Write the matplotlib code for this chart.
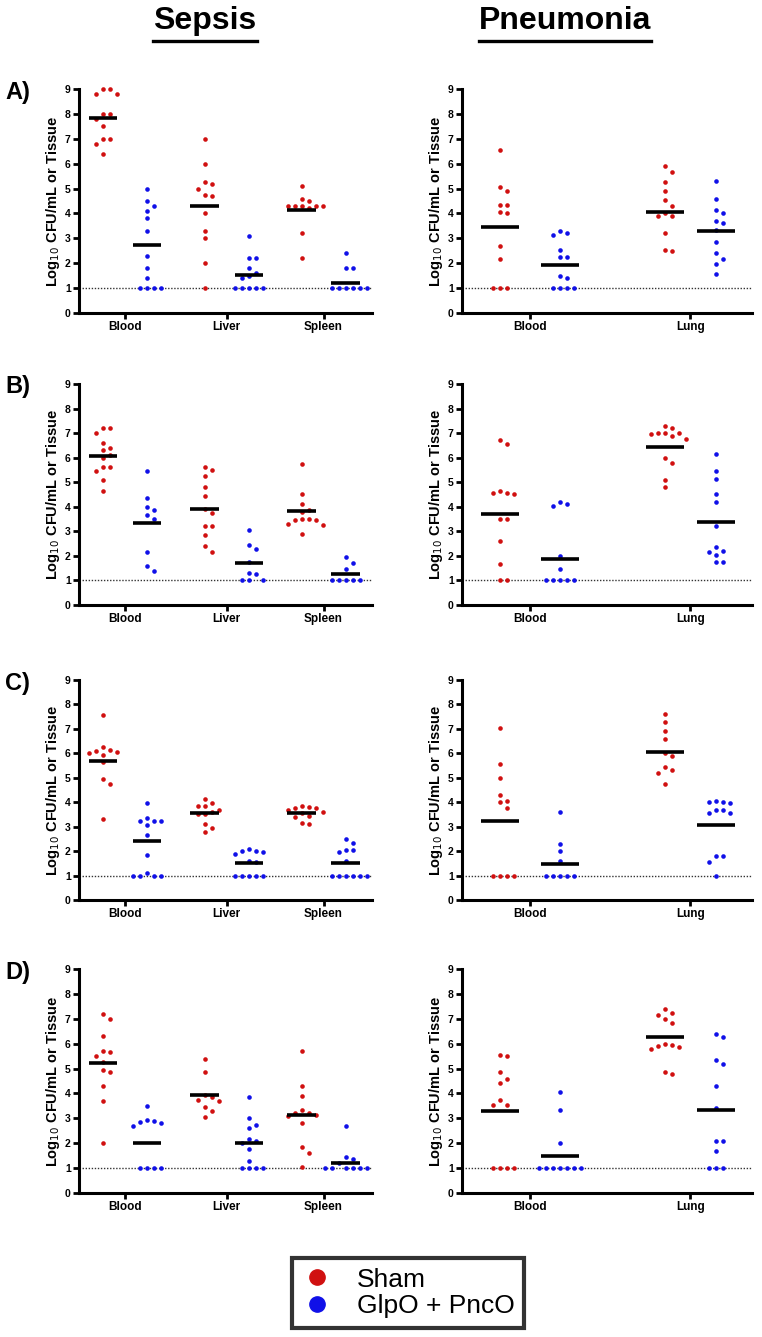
import matplotlib
matplotlib.use("Agg")
import matplotlib.pyplot as plt
from matplotlib.lines import Line2D
import numpy as np

plt.rcParams['font.family'] = ['Liberation Sans', 'DejaVu Sans']

RED = '#d01010'
BLUE = '#1010e8'

# ---- data: log10 CFU per group, listed (Sham, GlpO+PncO) per organ ----
sepsis_organs = ['Blood', 'Liver', 'Spleen']
pneumonia_organs = ['Blood', 'Lung']

sepsis_A = [
    [9.0, 9.0, 8.8, 8.8, 8.0, 8.0, 7.8, 7.5, 7.0, 7.0, 6.8, 6.4],
    [5.0, 4.5, 4.3, 4.1, 3.8, 3.3, 2.3, 1.8, 1.4, 1.0, 1.0, 1.0, 1.0],
    [7.0, 6.0, 5.25, 5.2, 5.0, 4.75, 4.7, 4.0, 3.3, 3.0, 2.0, 1.0],
    [3.1, 2.2, 2.2, 1.8, 1.6, 1.5, 1.4, 1.0, 1.0, 1.0, 1.0, 1.0],
    [5.1, 4.6, 4.5, 4.3, 4.3, 4.3, 4.3, 4.3, 4.2, 3.2, 2.2],
    [2.4, 1.8, 1.8, 1.0, 1.0, 1.0, 1.0, 1.0, 1.0],
]
sepsis_A_mean = [7.85, 2.75, 4.3, 1.52, 4.15, 1.2]

pneumonia_A = [
    [6.55, 5.05, 4.9, 4.35, 4.35, 4.05, 4.0, 2.7, 2.15, 1.0, 1.0, 1.0],
    [3.3, 3.2, 3.15, 2.55, 2.25, 2.25, 1.5, 1.4, 1.0, 1.0, 1.0, 1.0],
    [5.9, 5.65, 5.25, 4.9, 4.55, 4.3, 4.0, 3.9, 3.9, 3.2, 2.55, 2.5],
    [5.3, 4.6, 4.15, 4.0, 3.7, 3.6, 3.35, 2.85, 2.4, 2.15, 1.95, 1.55],
]
pneumonia_A_mean = [3.45, 1.92, 4.05, 3.3]

sepsis_B = [
    [7.2, 7.2, 7.0, 6.6, 6.4, 6.3, 6.1, 6.0, 5.6, 5.6, 5.45, 5.1, 4.65],
    [5.45, 4.35, 4.0, 3.85, 3.65, 3.5, 2.15, 1.6, 1.4],
    [5.6, 5.5, 5.25, 4.8, 4.45, 3.9, 3.75, 3.2, 3.2, 2.85, 2.4, 2.15],
    [3.05, 2.45, 2.3, 1.75, 1.3, 1.25, 1.0, 1.0, 1.0],
    [5.75, 4.5, 4.1, 3.85, 3.8, 3.5, 3.5, 3.45, 3.45, 3.3, 3.25, 2.9],
    [1.95, 1.7, 1.45, 1.0, 1.0, 1.0, 1.0, 1.0],
]
sepsis_B_mean = [6.08, 3.33, 3.9, 1.73, 3.82, 1.27]

pneumonia_B = [
    [6.7, 6.55, 4.65, 4.55, 4.55, 4.5, 3.5, 3.5, 2.6, 1.65, 1.0, 1.0],
    [4.2, 4.1, 4.05, 2.0, 1.45, 1.0, 1.0, 1.0, 1.0, 1.0],
    [7.3, 7.2, 7.0, 7.0, 7.0, 6.95, 6.9, 6.75, 6.0, 5.8, 5.1, 4.8],
    [6.15, 5.45, 5.15, 4.5, 4.2, 3.2, 2.35, 2.2, 2.15, 2.05, 1.75, 1.75],
]
pneumonia_B_mean = [3.72, 1.88, 6.45, 3.38]

sepsis_C = [
    [7.55, 6.25, 6.15, 6.1, 6.05, 6.0, 5.95, 5.65, 4.95, 4.75, 3.3],
    [3.95, 3.35, 3.25, 3.25, 3.25, 3.05, 2.65, 1.85, 1.1, 1.0, 1.0, 1.0, 1.0],
    [4.15, 3.95, 3.85, 3.85, 3.7, 3.6, 3.5, 3.5, 3.1, 2.95, 2.8],
    [2.1, 2.0, 2.0, 1.95, 1.9, 1.6, 1.55, 1.0, 1.0, 1.0, 1.0, 1.0],
    [3.85, 3.8, 3.75, 3.75, 3.7, 3.6, 3.55, 3.45, 3.4, 3.15, 3.1],
    [2.5, 2.35, 2.05, 2.05, 1.95, 1.6, 1.0, 1.0, 1.0, 1.0, 1.0, 1.0],
]
sepsis_C_mean = [5.7, 2.42, 3.56, 1.5, 3.56, 1.5]

pneumonia_C = [
    [7.05, 5.55, 5.0, 4.3, 4.05, 4.0, 3.75, 1.0, 1.0, 1.0, 1.0],
    [3.6, 2.3, 2.0, 1.6, 1.0, 1.0, 1.0, 1.0, 1.0],
    [7.6, 7.3, 6.9, 6.6, 6.0, 5.9, 5.45, 5.3, 5.2, 4.75],
    [4.05, 4.0, 4.0, 3.95, 3.7, 3.7, 3.55, 3.55, 1.8, 1.8, 1.55, 1.0],
]
pneumonia_C_mean = [3.22, 1.48, 6.07, 3.08]

sepsis_D = [
    [7.2, 7.0, 6.3, 5.7, 5.65, 5.5, 5.25, 4.95, 4.85, 4.3, 3.7, 2.0],
    [3.5, 2.95, 2.9, 2.85, 2.8, 2.7, 1.0, 1.0, 1.0, 1.0],
    [5.4, 4.85, 3.95, 3.85, 3.75, 3.7, 3.45, 3.3, 3.05],
    [3.85, 3.0, 2.75, 2.6, 2.15, 2.1, 2.0, 1.75, 1.3, 1.0, 1.0, 1.0, 1.0],
    [5.7, 4.3, 3.9, 3.35, 3.2, 3.2, 3.15, 3.1, 2.8, 1.85, 1.6, 1.05],
    [2.7, 1.45, 1.35, 1.2, 1.0, 1.0, 1.0, 1.0, 1.0, 1.0],
]
sepsis_D_mean = [5.23, 2.0, 3.93, 2.0, 3.13, 1.2]

pneumonia_D = [
    [5.55, 5.5, 4.85, 4.6, 4.4, 3.75, 3.55, 3.55, 1.0, 1.0, 1.0, 1.0],
    [4.05, 3.35, 2.0, 1.0, 1.0, 1.0, 1.0, 1.0, 1.0, 1.0],
    [7.4, 7.25, 7.15, 7.0, 6.85, 6.0, 5.95, 5.9, 5.85, 5.8, 4.85, 4.8],
    [6.4, 6.25, 5.35, 5.2, 4.3, 3.4, 2.1, 2.1, 1.7, 1.0, 1.0, 1.0],
]
pneumonia_D_mean = [3.3, 1.5, 6.25, 3.33]

row_labels = ['A)', 'B)', 'C)', 'D)']
sepsis_rows = [(sepsis_A, sepsis_A_mean), (sepsis_B, sepsis_B_mean),
               (sepsis_C, sepsis_C_mean), (sepsis_D, sepsis_D_mean)]
pneumonia_rows = [(pneumonia_A, pneumonia_A_mean), (pneumonia_B, pneumonia_B_mean),
                  (pneumonia_C, pneumonia_C_mean), (pneumonia_D, pneumonia_D_mean)]

# ---- layout (pixels) ----
W, H = 762, 1337
row_top = [89, 384, 680, 969]
row_bot = [313, 605, 900, 1193]
sepsis_x = (79, 372)
pneu_x = (462, 752)
sepsis_pos = [0, 1, 2.3, 3.3, 4.5, 5.5]
pneu_pos = [0, 1, 2.75, 3.6]


def swarm(ax, x0, ys, gap=7.0):
    """Beeswarm offsets (data units) so dots don't overlap, like Prism."""
    tr = ax.transData
    px_per_x = tr.transform((1, 0))[0] - tr.transform((0, 0))[0]
    placed = []
    xs = []
    for y in ys:
        py = tr.transform((x0, y))[1]
        k = 0
        while True:
            step = (k + 1) // 2 * (1 if k % 2 else -1)
            cx = step * gap
            if all((cx - a) ** 2 + (py - b) ** 2 >= gap ** 2 for a, b in placed):
                break
            k += 1
        placed.append((cx, py))
        xs.append(x0 + cx / px_per_x)
    return xs


def panel(ax, groups, means, pos, organs, xlim):
    ax.set_xlim(*xlim)
    ax.set_ylim(0, 9)
    ax.axhline(1, color='#333333', lw=1.0, ls=(0, (1, 1.2)), zorder=1)
    for i, (vals, m) in enumerate(zip(groups, means)):
        col = RED if i % 2 == 0 else BLUE
        xs = swarm(ax, pos[i], vals)
        ax.plot(xs, vals, 'o', ms=3.3, color=col, mec='none', zorder=3, clip_on=False)
        ax.hlines(m, pos[i] - 0.32, pos[i] + 0.32, color='black', lw=2.6, zorder=4)
    for s in ['top', 'right']:
        ax.spines[s].set_visible(False)
    for s in ['left', 'bottom']:
        ax.spines[s].set_linewidth(2.2)
    ax.set_yticks(range(10))
    ax.set_yticklabels([str(v) for v in range(10)], fontweight='bold', fontsize=7.5)
    centers = [(pos[2 * k] + pos[2 * k + 1]) / 2 for k in range(len(organs))]
    ax.set_xticks(centers)
    ax.set_xticklabels(organs, fontweight='bold', fontsize=8.5)
    ax.tick_params(axis='both', direction='out', length=4, width=2, pad=2)
    ax.set_ylabel('Log$_{10}$ CFU/mL or Tissue', fontweight='bold', fontsize=10.5, labelpad=2)


fig = plt.figure(figsize=(W / 100, H / 100), dpi=100)

for r in range(4):
    b = 1 - row_bot[r] / H
    h = (row_bot[r] - row_top[r]) / H
    ax1 = fig.add_axes([sepsis_x[0] / W, b, (sepsis_x[1] - sepsis_x[0]) / W, h])
    panel(ax1, sepsis_rows[r][0], sepsis_rows[r][1], sepsis_pos, sepsis_organs, (-0.55, 6.1))
    ax2 = fig.add_axes([pneu_x[0] / W, b, (pneu_x[1] - pneu_x[0]) / W, h])
    panel(ax2, pneumonia_rows[r][0], pneumonia_rows[r][1], pneu_pos, pneumonia_organs, (-0.63, 4.2))
    fig.text(5 / W, 1 - (row_top[r] + 3) / H, row_labels[r], fontsize=17,
             fontweight='bold', ha='left', va='center')

# column titles with underline
for label, cx in [('Sepsis', 205), ('Pneumonia', 565)]:
    fig.text(cx / W, 1 - 21 / H, label, fontsize=23, fontweight='bold',
             ha='center', va='center')
fig.canvas.draw()
rend = fig.canvas.get_renderer()
for t in fig.texts[-2:]:
    bb = t.get_window_extent(rend)
    y = 1 - 41 / H
    fig.add_artist(Line2D([bb.x0 / W, bb.x1 / W], [y, y], color='black', lw=2.4,
                          transform=fig.transFigure))

# legend
handles = [Line2D([], [], marker='o', ls='none', color=RED, ms=11, label='Sham'),
           Line2D([], [], marker='o', ls='none', color=BLUE, ms=11, label='GlpO + PncO')]
leg = fig.legend(handles=handles, loc='center', bbox_to_anchor=(408 / W, 1 - 1293 / H),
                 fontsize=19, frameon=True, fancybox=False, handletextpad=0.9,
                 borderpad=0.35, labelspacing=0.1, handlelength=1.2)
leg.get_frame().set_edgecolor('black')
leg.get_frame().set_linewidth(3)

fig.savefig('out.png', dpi=100)
